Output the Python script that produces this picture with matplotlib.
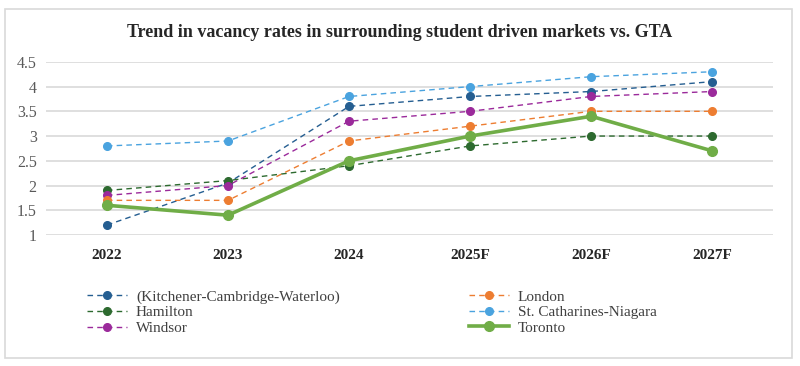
import matplotlib.pyplot as plt
from matplotlib.patches import Rectangle

years = ['2022', '2023', '2024', '2025F', '2026F', '2027F']
kcw = [1.2, 2.05, 3.6, 3.8, 3.9, 4.1]
london = [1.7, 1.7, 2.9, 3.2, 3.5, 3.5]
hamilton = [1.9, 2.1, 2.4, 2.8, 3.0, 3.0]
st_catharines = [2.8, 2.9, 3.8, 4.0, 4.2, 4.3]
windsor = [1.8, 2.0, 3.3, 3.5, 3.8, 3.9]
toronto = [1.6, 1.4, 2.5, 3.0, 3.4, 2.7]

plt.rcParams['font.family'] = ['Liberation Serif', 'DejaVu Serif']

fig = plt.figure(figsize=(8, 3.66), dpi=100)
ax = fig.add_axes([0.058, 0.358, 0.908, 0.473])

# outer chart border
fig.patches.append(Rectangle((5 / 800, 8 / 366), 787 / 800, 349 / 366,
                             transform=fig.transFigure, fill=False,
                             edgecolor='#d9d9d9', linewidth=1.2))

x = range(len(years))
series = [
    ('(Kitchener-Cambridge-Waterloo)', kcw, '#255e91'),
    ('Hamilton', hamilton, '#2d6a2f'),
    ('Windsor', windsor, '#9b2a9b'),
    ('London', london, '#ed7d31'),
    ('St. Catharines-Niagara', st_catharines, '#4aa3df'),
]
for name, vals, color in series:
    ax.plot(x, vals, color=color, linestyle=(0, (4, 3)), linewidth=1,
            marker='o', markersize=5.5, label=name)
ax.plot(x, toronto, color='#70ad47', linewidth=2.6, marker='o',
        markersize=7, label='Toronto', zorder=5)

ax.set_xlim(-0.5, len(years) - 0.5)
ax.set_ylim(1, 4.5)
ax.set_yticks([1, 1.5, 2, 2.5, 3, 3.5, 4, 4.5])
ax.set_yticklabels(['1', '1.5', '2', '2.5', '3', '3.5', '4', '4.5'])
ax.set_xticks(list(x))
ax.set_xticklabels(years, fontweight='bold')
ax.tick_params(axis='y', labelsize=11.5, colors='#595959', length=0, pad=7)
ax.tick_params(axis='x', labelsize=11, colors='#262626', length=0, pad=10)
ax.grid(axis='y', color='#d9d9d9', linewidth=1.2)
ax.set_axisbelow(True)
for s in ax.spines.values():
    s.set_visible(False)

fig.text(0.499, 1 - 37 / 366,
         'Trend in vacancy rates in surrounding student driven markets vs. GTA',
         ha='center', va='baseline', fontsize=13, fontweight='bold',
         color='#262626')

h, l = ax.get_legend_handles_labels()
for cols, xpos in [([0, 1, 2], 87 / 800), ([3, 4, 5], 469 / 800)]:
    leg = fig.legend([h[i] for i in cols], [l[i] for i in cols],
                     loc='upper left', bbox_to_anchor=(xpos, 1 - 290 / 366),
                     frameon=False, fontsize=11, handlelength=2.6,
                     handletextpad=0.6, labelspacing=0.12, borderpad=0,
                     borderaxespad=0)
    for t in leg.get_texts():
        t.set_color('#404040')

fig.savefig('out.png', dpi=100)
